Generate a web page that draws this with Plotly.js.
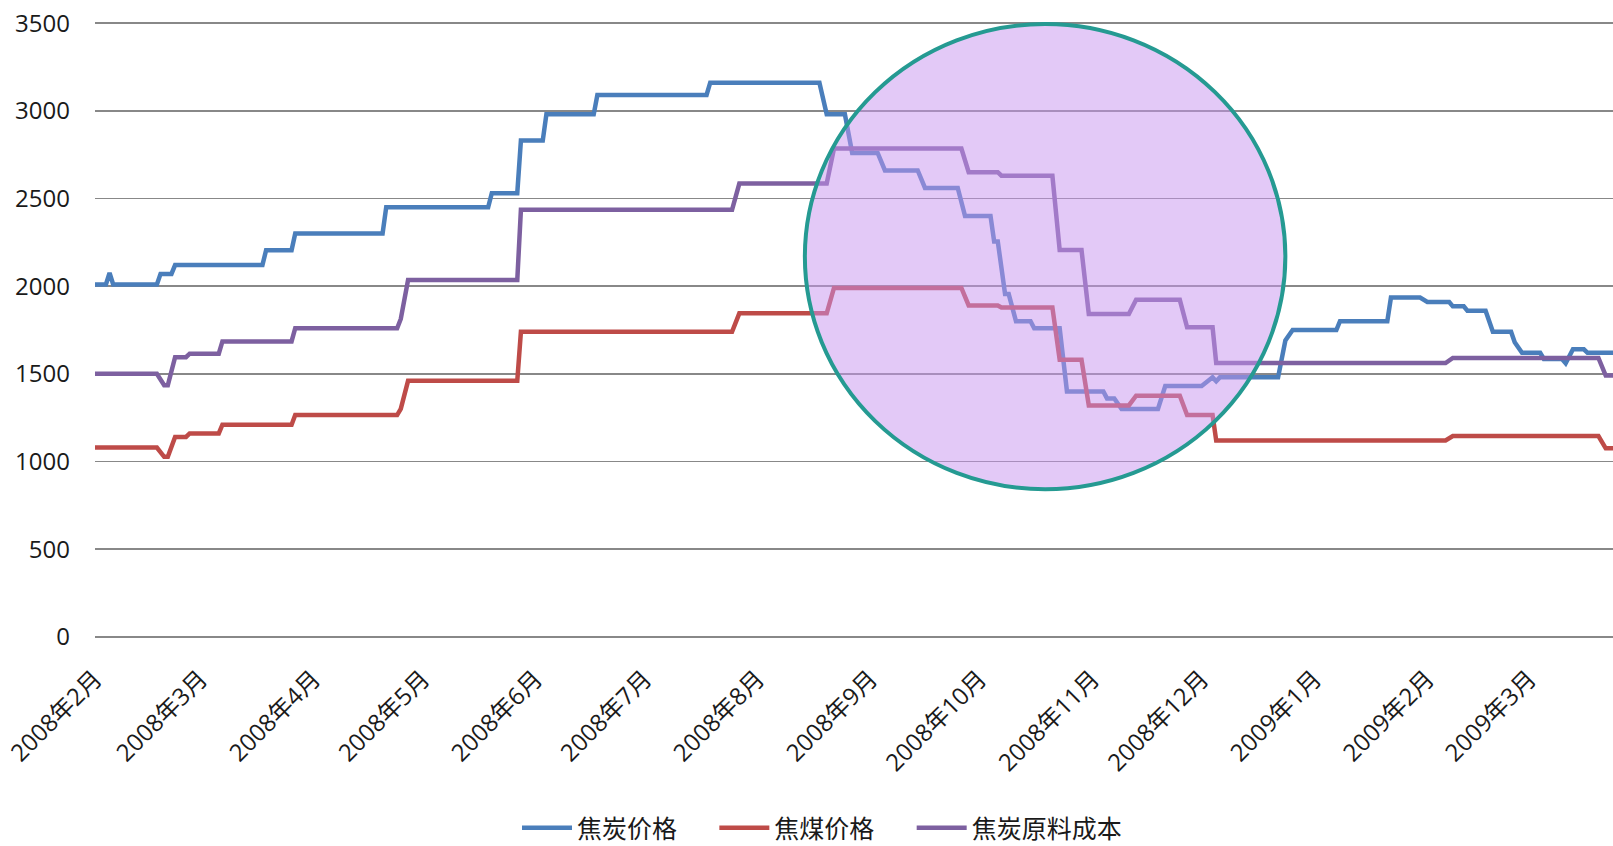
<!DOCTYPE html>
<html>
<head>
<meta charset="utf-8">
<script src="https://cdn.plot.ly/plotly-3.0.1.min.js"></script>
<style>
  html, body { margin: 0; padding: 0; background: #fff; }
  #chart { width: 1613px; height: 846px; }
</style>
</head>
<body>
<div id="chart"></div>
<script>
// 焦炭价格 (blue) - break points
const cokeDates = [
  '2008-02-01', '2008-02-04', '2008-02-05', '2008-02-06', '2008-02-18', '2008-02-19', '2008-02-22', '2008-02-23',
  '2008-03-18', '2008-03-19', '2008-03-26', '2008-03-27', '2008-04-20', '2008-04-21', '2008-05-19', '2008-05-20',
  '2008-05-27', '2008-05-28', '2008-06-03', '2008-06-04', '2008-06-17', '2008-06-18', '2008-07-18', '2008-07-19',
  '2008-08-18', '2008-08-20', '2008-08-25', '2008-08-27', '2008-09-03', '2008-09-05', '2008-09-14', '2008-09-16',
  '2008-09-25', '2008-09-27', '2008-10-04', '2008-10-05', '2008-10-06', '2008-10-08', '2008-10-09', '2008-10-11',
  '2008-10-15', '2008-10-16', '2008-10-23', '2008-10-25', '2008-11-04', '2008-11-05', '2008-11-07', '2008-11-09',
  '2008-11-19', '2008-11-21', '2008-12-01', '2008-12-04', '2008-12-05', '2008-12-06', '2008-12-22', '2008-12-24',
  '2008-12-26', '2009-01-07', '2009-01-08', '2009-01-21', '2009-01-22', '2009-01-30', '2009-02-01', '2009-02-07',
  '2009-02-08', '2009-02-11', '2009-02-12', '2009-02-17', '2009-02-19', '2009-02-24', '2009-02-25', '2009-02-27',
  '2009-03-04', '2009-03-05', '2009-03-10', '2009-03-11', '2009-03-13', '2009-03-16', '2009-03-17', '2009-03-24'
];
const cokePrice = [
  2010, 2010, 2075, 2010, 2010, 2070, 2070, 2120,
  2120, 2205, 2205, 2300, 2300, 2450, 2450, 2530,
  2530, 2830, 2830, 2980, 2980, 3090, 3090, 3160,
  3160, 2980, 2980, 2760, 2760, 2660, 2660, 2560,
  2560, 2400, 2400, 2255, 2255, 1955, 1955, 1800,
  1800, 1760, 1760, 1400, 1400, 1360, 1360, 1300,
  1300, 1430, 1430, 1480, 1458, 1480, 1480, 1690,
  1750, 1750, 1800, 1800, 1935, 1935, 1910, 1910,
  1885, 1885, 1860, 1860, 1740, 1740, 1680, 1620,
  1620, 1585, 1585, 1560, 1640, 1640, 1620, 1620
];

// 焦煤价格 (red)
const coalDates = [
  '2008-02-01', '2008-02-18', '2008-02-20', '2008-02-21', '2008-02-23', '2008-02-26', '2008-02-27', '2008-03-06',
  '2008-03-07', '2008-03-26', '2008-03-27', '2008-04-24', '2008-04-25', '2008-04-27', '2008-05-27', '2008-05-28',
  '2008-07-25', '2008-07-27', '2008-08-20', '2008-08-22', '2008-09-26', '2008-09-28', '2008-10-06', '2008-10-07',
  '2008-10-21', '2008-10-23', '2008-10-29', '2008-10-31', '2008-11-11', '2008-11-13', '2008-11-25', '2008-11-27',
  '2008-12-04', '2008-12-05', '2009-02-06', '2009-02-08', '2009-03-20', '2009-03-22', '2009-03-24'
];
const coalPrice = [
  1080, 1080, 1027, 1027, 1140, 1140, 1160, 1160,
  1210, 1210, 1265, 1265, 1300, 1460, 1460, 1740,
  1740, 1845, 1845, 1990, 1990, 1890, 1890, 1878,
  1878, 1580, 1580, 1320, 1320, 1375, 1375, 1265,
  1265, 1120, 1120, 1145, 1145, 1075, 1075
];

// 焦炭原料成本 (purple)
const costDates = coalDates;
const costValue = [
  1500, 1500, 1435, 1435, 1595, 1595, 1615, 1615,
  1685, 1685, 1760, 1760, 1813, 2035, 2035, 2435,
  2435, 2585, 2585, 2785, 2785, 2650, 2650, 2630,
  2630, 2206, 2206, 1841, 1841, 1922, 1922, 1765,
  1765, 1562, 1562, 1591, 1591, 1490, 1490
];

// x轴刻度
const monthTicks = [
  '2008-02-01', '2008-03-01', '2008-04-01', '2008-05-01', '2008-06-01', '2008-07-01', '2008-08-01',
  '2008-09-01', '2008-10-01', '2008-11-01', '2008-12-01', '2009-01-01', '2009-02-01', '2009-03-01'
];
const monthLabels = monthTicks.map(d => {
  const [yy, mm] = d.split('-');
  return `${yy}年${parseInt(mm)}月`;
});

const fontFamily = '"Open Sans", "Noto Sans CJK SC", sans-serif';

const seria = (x, y, name, color, legendId) => ({
  x: x,
  y: y,
  name: name,
  type: 'scatter',
  mode: 'lines',
  legend: legendId,
  line: { color: color, width: 4.5 }
});

const data = [
  seria(cokeDates, cokePrice, '焦炭价格', '#4A7EBB', 'legend'),
  seria(coalDates, coalPrice, '焦煤价格', '#BE4B48', 'legend2'),
  seria(costDates, costValue, '焦炭原料成本', '#7D60A0', 'legend3')
];

// legenda - kazdy wpis osobno, zeby odstepy byly jak na obrazku
const legenda = xPos => ({
  orientation: 'h',
  x: xPos,
  xanchor: 'left',
  y: -0.306,
  yanchor: 'middle',
  itemwidth: 50,
  font: { size: 25, family: fontFamily, color: '#1a1a1a' },
  bgcolor: 'rgba(0,0,0,0)'
});

const layout = {
  width: 1613,
  height: 846,
  margin: { l: 95, r: 0, t: 21, b: 207, autoexpand: false },
  paper_bgcolor: '#fff',
  plot_bgcolor: '#fff',
  font: { family: fontFamily, color: '#1a1a1a' },
  showlegend: true,
  xaxis: {
    type: 'date',
    range: ['2008-02-01', '2009-03-24'],
    tickmode: 'array',
    tickvals: monthTicks,
    ticktext: monthLabels,
    tickangle: -45,
    tickfont: { size: 24, family: fontFamily, color: '#1a1a1a' },
    ticklabelstandoff: 20,
    showgrid: false,
    zeroline: false,
    showline: false,
    ticks: ''
  },
  yaxis: {
    range: [-12, 3512],
    tickvals: [0, 500, 1000, 1500, 2000, 2500, 3000, 3500],
    tickfont: { size: 24, family: fontFamily, color: '#1a1a1a' },
    ticklabelstandoff: 24,
    showgrid: true,
    gridcolor: '#888888',
    gridwidth: 1.6,
    zeroline: false,
    showline: false,
    ticks: ''
  },
  legend: legenda(0.278),
  legend2: legenda(0.408),
  legend3: legenda(0.538),
  shapes: [{
    type: 'circle',
    xref: 'x',
    yref: 'y',
    x0: '2008-08-14',
    x1: '2008-12-24',
    y0: 842,
    y1: 3495,
    fillcolor: 'rgba(199,147,239,0.5)',
    line: { color: '#259a92', width: 4 },
    layer: 'above'
  }]
};

Plotly.newPlot('chart', data, layout, { displayModeBar: false, staticPlot: true });
</script>
</body>
</html>
